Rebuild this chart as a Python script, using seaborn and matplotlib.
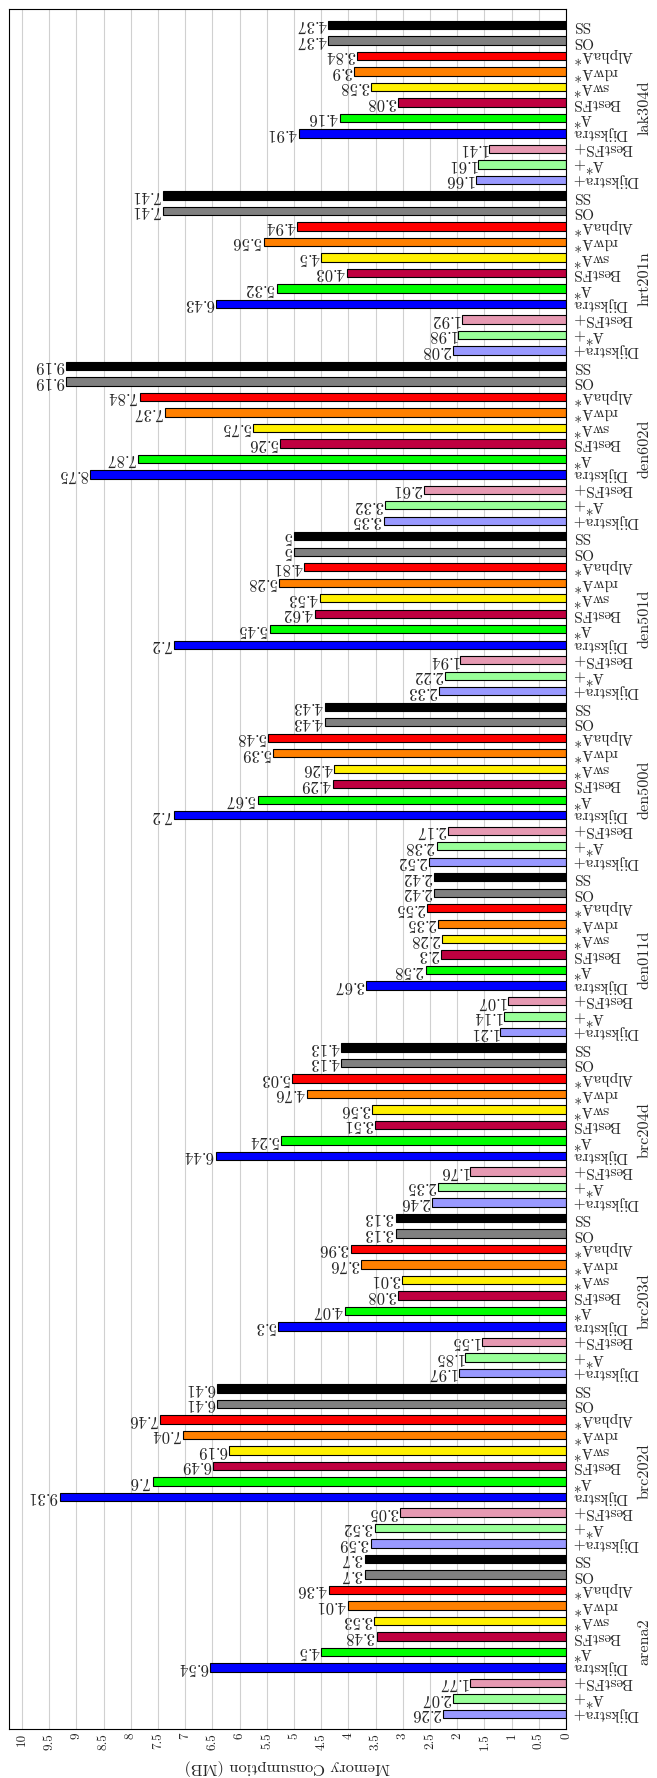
import numpy as np
import pandas as pd
import matplotlib
matplotlib.use("Agg")
import matplotlib.pyplot as plt
import matplotlib.transforms as mtransforms
import seaborn as sns

# ---- data -------------------------------------------------------------
maps = ["arena2", "brc202d", "brc203d", "brc204d", "den011d",
        "den500d", "den501d", "den602d", "hrt201n", "lak304d"]

algorithms = ["Dijkstra+", "A*+", "BestFS+", "Dijkstra", "A*", "BestFS",
              "swA*", "rdwA*", "AlphaA*", "OS", "SS"]

dijkstra_plus = [2.26, 3.59, 1.97, 2.46, 1.21, 2.52, 2.33, 3.35, 2.08, 1.66]
astar_plus    = [2.07, 3.52, 1.85, 2.35, 1.14, 2.38, 2.22, 3.32, 1.98, 1.61]
bestfs_plus   = [1.77, 3.05, 1.55, 1.76, 1.07, 2.17, 1.94, 2.61, 1.92, 1.41]
dijkstra      = [6.54, 9.31, 5.30, 6.44, 3.67, 7.20, 7.20, 8.75, 6.43, 4.91]
astar         = [4.50, 7.60, 4.07, 5.24, 2.58, 5.67, 5.45, 7.87, 5.32, 4.16]
bestfs        = [3.48, 6.49, 3.08, 3.51, 2.30, 4.29, 4.62, 5.26, 4.03, 3.08]
swastar       = [3.53, 6.19, 3.01, 3.56, 2.28, 4.26, 4.53, 5.75, 4.50, 3.58]
rdwastar      = [4.01, 7.04, 3.76, 4.76, 2.35, 5.39, 5.28, 7.37, 5.56, 3.90]
alphaastar    = [4.36, 7.46, 3.96, 5.03, 2.55, 5.48, 4.81, 7.84, 4.94, 3.84]
os_memory     = [3.70, 6.41, 3.13, 4.13, 2.42, 4.43, 5.00, 9.19, 7.41, 4.37]
ss_memory     = [3.70, 6.41, 3.13, 4.13, 2.42, 4.43, 5.00, 9.19, 7.41, 4.37]

series = [dijkstra_plus, astar_plus, bestfs_plus, dijkstra, astar, bestfs,
          swastar, rdwastar, alphaastar, os_memory, ss_memory]

colors = ["#9999ff", "#99ff99", "#e699b2", "#0000ff", "#00ff00", "#bf0040",
          "#fff000", "#ff8000", "#ff0000", "#808080", "#000000"]

value_ticks = np.arange(0, 10.01, 0.5)

# ---- long table: one row per bar ------------------------------------
rows = []
for g, m in enumerate(maps):
    for a, vals in zip(algorithms, series):
        rows.append({"map": m, "alg": a, "slot": f"{m}/{a}", "value": vals[g]})
df = pd.DataFrame(rows)
order = list(df["slot"])[::-1]          # first map ends up at the bottom
n = len(order)

# ---- style ------------------------------------------------------------
sns.set_style("white")
plt.rcParams["font.family"] = ["cmr10", "DejaVu Serif"]
plt.rcParams["axes.unicode_minus"] = False
plt.rcParams["axes.formatter.use_mathtext"] = True

W, H = 657, 1778
fig = plt.figure(figsize=(W / 100, H / 100), dpi=100)
ax_left, ax_right, ax_top, ax_bottom = 9, 566, 9.3, 1729.3
ax = fig.add_axes([ax_left / W, (H - ax_bottom) / H,
                   (ax_right - ax_left) / W, (ax_bottom - ax_top) / H])

sns.barplot(data=df, x="value", y="slot", hue="alg", order=order,
            hue_order=algorithms, palette=colors, dodge=False, width=0.54,
            orient="h", edgecolor="black", linewidth=0.8, saturation=1,
            errorbar=None, legend=False, ax=ax)

ax.set_xlim(10.24, 0)
ax.set_ylim(n - 1 + 0.99, -1.01)

# value axis
ax.set_xticks(value_ticks)
ax.set_xticklabels([f"{t:g}" for t in value_ticks], rotation=90, fontsize=9.5)
ax.tick_params(axis="x", length=0, pad=2.5)
ax.grid(axis="x", color="#d0d0d0", linewidth=0.8)
ax.set_axisbelow(True)

# algorithm names beside each bar
ax.yaxis.tick_right()
ax.set_yticks(range(n))
ax.set_yticklabels([s.split("/")[1] for s in order], rotation=180,
                   fontsize=11, ha="left", va="center")
ax.tick_params(axis="y", length=0, pad=4.8)
ax.set_ylabel("")

ax.set_xlabel("Memory Consumption (MB)", rotation=180, fontsize=11.8)
ax.xaxis.set_label_coords(0.5, -(1767 - ax_bottom) / (ax_bottom - ax_top))
ax.xaxis.label.set_va("center")

for sp in ax.spines.values():
    sp.set_visible(True)
    sp.set_color("black")
    sp.set_linewidth(0.8)

# value labels at the end of each bar
for _, r in df.iterrows():
    pos = order.index(r["slot"])
    ax.annotate(f"{r['value']:g}", xy=(r["value"], pos), xytext=(-1.5, 0),
                textcoords="offset points", ha="right", va="center",
                rotation=180, fontsize=12)

# map names for each group of bars
trans = mtransforms.blended_transform_factory(ax.transAxes, ax.transData)
x_map = (645 - ax_left) / (ax_right - ax_left)
for g, m in enumerate(maps):
    k = 11 * g + 4.65
    ax.text(x_map, n - 1 - k, m, transform=trans, rotation=90,
            ha="center", va="center", fontsize=11.7)

fig.savefig("out.png", dpi=100)
